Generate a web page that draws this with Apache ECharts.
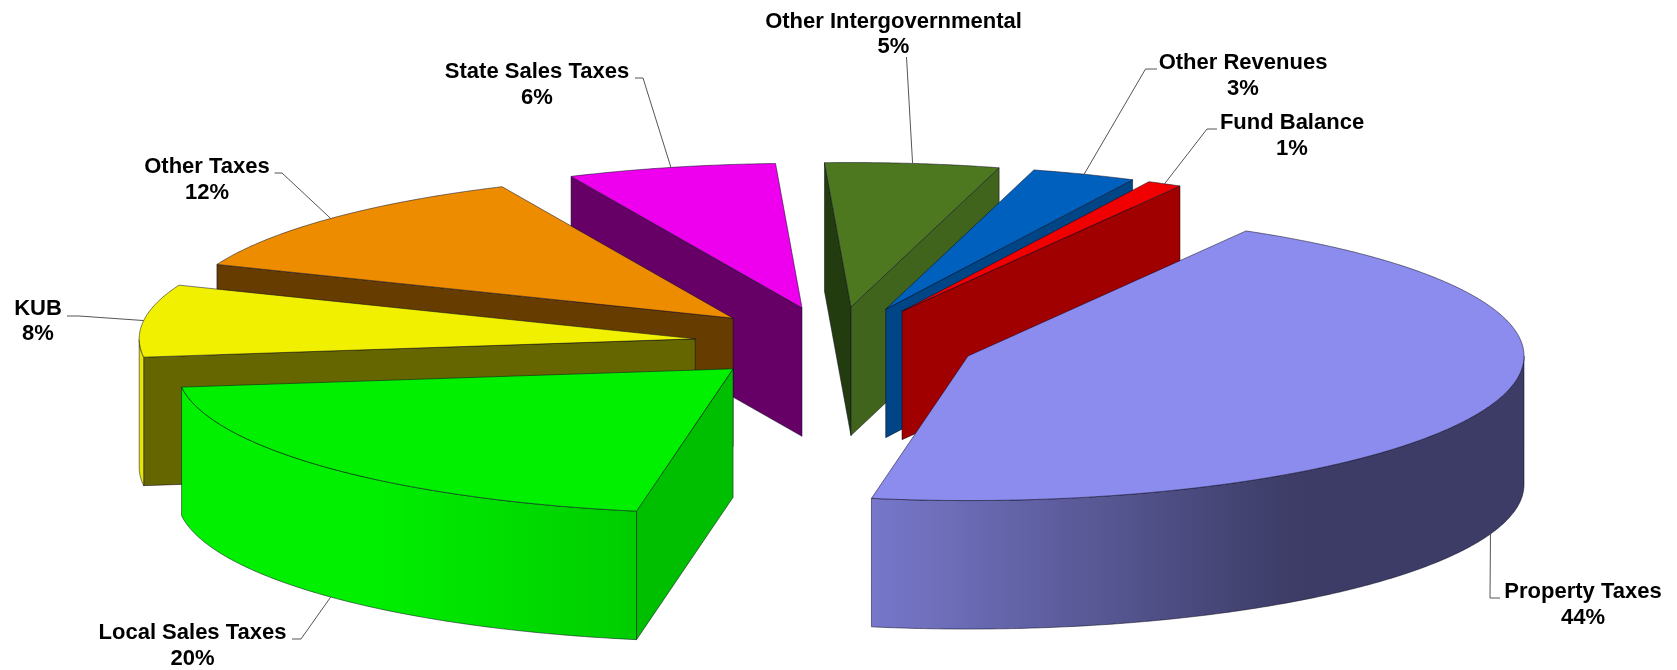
<!DOCTYPE html>
<html>
<head>
<meta charset="utf-8">
<style>html,body{margin:0;padding:0;background:#fff}#chart{width:1677px;height:670px}</style>
<script src="https://cdn.jsdelivr.net/npm/echarts@6/dist/echarts.min.js"></script>
</head>
<body>
<div id="chart"></div>
<script>
// Revenue sources, clockwise from the first wedge.
const categories = ['Property Taxes', 'Local Sales Taxes', 'KUB', 'Other Taxes', 'State Sales Taxes', 'Other Intergovernmental', 'Other Revenues', 'Fund Balance'];
const shares = [44, 20, 8, 12, 6, 5, 3, 1];

// Wedges are painted back to front so nearer ones cover farther ones.
const paintOrder = [4, 3, 2, 1, 5, 6, 7, 0];

// Face colours: top, cut face at the wedge's first edge, cut face at its last edge.
const topColors = ['#8c8cee', '#00f000', '#f0f000', '#ee8c00', '#ee00ee', '#4e7820', '#0060be', '#f00000'];
const firstFaceColors = ['#3c3c64', '#00be00', '#666600', '#663c00', '#660066', '#233c0f', '#004687', '#a00000'];
const lastFaceColors = ['#3c3c64', '#00be00', '#666600', '#663c00', '#660066', '#41641c', '#004687', '#a00000'];
const rimColors = ['#8c8cee', '#00f000', '#e6e600', '#ee8c00', '#ee00ee', '#4e7820', '#0060be', '#f00000'];

// Label placement: text centre, first line y, second line y, leader start and elbow.
const labelLayout = [
  { x: 1583, y1: 592, y2: 618, start: [1500, 598], elbow: [1490, 598] },
  { x: 192.5, y1: 633, y2: 659, start: [292, 639], elbow: [301, 639] },
  { x: 38, y1: 309, y2: 334, start: [67, 316], elbow: [79, 316] },
  { x: 207, y1: 167, y2: 193, start: [274.5, 173], elbow: [282, 173] },
  { x: 537, y1: 72, y2: 98, start: [635, 78], elbow: [643, 78] },
  { x: 893.5, y1: 22, y2: 47, start: [906.5, 57], elbow: [906.5, 57] },
  { x: 1243, y1: 63, y2: 89, start: [1157, 69], elbow: [1145.5, 69] },
  { x: 1292, y1: 123, y2: 149, start: [1217, 129], elbow: [1207, 129] }
];

// Oblique view of the pie: plan-view circle flattened to an ellipse, extruded downward.
const view = { cx: 835.3, cy: 343.5, rx: 556, ry: 144.5, depth: 128.5, explode: 0.254, startAngle: 60 };
const RAD = Math.PI / 180;
const total = shares.reduce((a, b) => a + b, 0);

const wedges = [];
shares.reduce((from, share) => {
  const to = from - share / total * 360;
  wedges.push({ from, to, mid: (from + to) / 2 });
  return to;
}, view.startAngle);

function apexOf(w) {
  return [
    view.cx + view.explode * view.rx * Math.cos(w.mid * RAD),
    view.cy - view.explode * view.ry * Math.sin(w.mid * RAD)
  ];
}
function rimPoint(apex, deg, drop) {
  return [apex[0] + view.rx * Math.cos(deg * RAD), apex[1] - view.ry * Math.sin(deg * RAD) + (drop || 0)];
}
function arcAngles(from, to) {
  const out = [];
  for (let d = from; d > to; d -= 0.5) out.push(d);
  out.push(to);
  return out;
}

// Rim brightness against the horizontal direction of the surface normal.
const shadeKnots = [[-1, 1], [-0.66, 1], [-0.17, 0.85], [0.58, 0.43], [1, 0.43]];
function shadeAt(c) {
  for (let i = 1; i < shadeKnots.length; i++) {
    const a = shadeKnots[i - 1], b = shadeKnots[i];
    if (c <= b[0]) return a[1] + (b[1] - a[1]) * (c - a[0]) / (b[0] - a[0]);
  }
  return shadeKnots[shadeKnots.length - 1][1];
}
function scaled(hex, k) {
  const n = parseInt(hex.slice(1), 16);
  return 'rgb(' + [n >> 16 & 255, n >> 8 & 255, n & 255].map(v => Math.round(v * k)).join(',') + ')';
}

const edge = { stroke: 'rgba(10,10,30,0.65)', lineWidth: 0.8, lineJoin: 'round' };

function renderWedge(params, api) {
  const i = api.value(0);
  const w = wedges[i];
  const apex = apexOf(w);
  const children = [];
  const drop = p => [p[0], p[1] + view.depth];
  const addPolygon = (points, fill) => children.push({ type: 'polygon', shape: { points }, style: Object.assign({ fill }, edge) });

  const a0 = rimPoint(apex, w.from);
  const a1 = rimPoint(apex, w.to);
  if (Math.cos(w.from * RAD) < 0) addPolygon([apex, a0, drop(a0), drop(apex)], firstFaceColors[i]);
  if (Math.cos(w.to * RAD) > 0) addPolygon([apex, a1, drop(a1), drop(apex)], lastFaceColors[i]);

  const front = arcAngles(w.from, w.to).filter(d => Math.sin(d * RAD) <= 0);
  if (front.length > 1) {
    const upper = front.map(d => rimPoint(apex, d));
    const lower = front.map(d => rimPoint(apex, d, view.depth)).reverse();
    const xs = upper.map(p => p[0]);
    const minX = Math.min(...xs), maxX = Math.max(...xs);
    const colorStops = [];
    for (let k = 0; k <= 24; k++) {
      const x = minX + (maxX - minX) * k / 24;
      colorStops.push({ offset: k / 24, color: scaled(rimColors[i], shadeAt((x - apex[0]) / view.rx)) });
    }
    addPolygon(upper.concat(lower), { type: 'linear', global: true, x: minX, y: 0, x2: maxX, y2: 0, colorStops });
  }

  addPolygon([apex].concat(arcAngles(w.from, w.to).map(d => rimPoint(apex, d))), topColors[i]);
  return { type: 'group', children };
}

function renderLabel(params, api) {
  const i = api.value(0);
  const w = wedges[i];
  const lay = labelLayout[i];
  const font = 'bold 22px "Liberation Sans", Arial, sans-serif';
  const drop = Math.sin(w.mid * RAD) < 0 ? view.depth : 0;
  const tip = rimPoint(apexOf(w), w.mid, drop);
  const line = (text, y) => ({
    type: 'text',
    style: { text, x: lay.x, y, font, fill: '#000', align: 'center', verticalAlign: 'middle' }
  });
  return {
    type: 'group',
    children: [
      { type: 'polyline', shape: { points: [lay.start, lay.elbow, tip] }, style: { stroke: '#555', lineWidth: 1, fill: null } },
      line(categories[i], lay.y1),
      line(api.value(1) + '%', lay.y2)
    ]
  };
}

const chart = echarts.init(document.getElementById('chart'), null, { renderer: 'canvas' });
chart.setOption({
  animation: false,
  backgroundColor: '#fff',
  series: [
    {
      type: 'custom',
      coordinateSystem: 'none',
      silent: true,
      renderItem: renderWedge,
      data: paintOrder.map(i => [i, shares[i]])
    },
    {
      type: 'custom',
      coordinateSystem: 'none',
      silent: true,
      renderItem: renderLabel,
      data: shares.map((s, i) => [i, s])
    }
  ]
});
</script>
</body>
</html>
